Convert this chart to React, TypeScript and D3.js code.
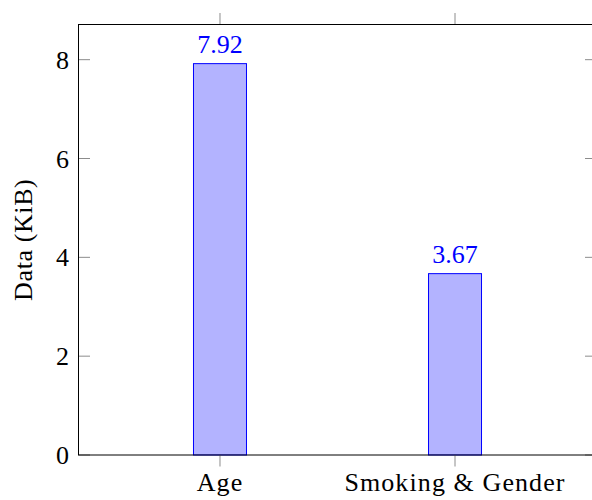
import React from "react";
import * as d3 from "d3";

// Storage size per attribute group
const categories: string[] = ["Age", "Smoking & Gender"];
const sizes: number[] = [7.92, 3.67];
const yTicks: number[] = [0, 2, 4, 6, 8];
const yLabel = "Data (KiB)";

const W = 592;
const H = 500;
const FONT = "'Liberation Serif', 'DejaVu Serif', serif";

export default function App() {
  const left = 78.5;
  const right = 596.5;
  const top = 24.5;
  const bottom = 455;

  const yMax = d3.max(sizes)! * 1.1;
  const y = d3.scaleLinear().domain([0, yMax]).range([bottom, top]);
  const x = d3
    .scalePoint<string>()
    .domain(categories)
    .range([left, right])
    .padding(0.602);

  const barW = 53;
  const tickLen = 11.5;
  const tickColor = "#8c8c8c";

  return (
    <svg
      width={W}
      height={H}
      style={{ position: "absolute", left: 0, top: 0, background: "#fff" }}
      fontFamily={FONT}
    >
      {/* bars */}
      {categories.map((c, i) => (
        <g key={c}>
          <rect
            x={x(c)! - barW / 2}
            y={y(sizes[i])}
            width={barW}
            height={y(0) - y(sizes[i])}
            fill="#b3b3ff"
            stroke="#0000ff"
            strokeWidth={1}
          />
          <text
            x={x(c)!}
            y={y(sizes[i]) - 10.5}
            textAnchor="middle"
            fontSize={26}
            fill="#0000ff"
          >
            {sizes[i].toFixed(2)}
          </text>
        </g>
      ))}

      {/* y ticks: inward on both sides */}
      {yTicks.map((t) => (
        <g key={t}>
          <line x1={left} x2={left + tickLen} y1={y(t)} y2={y(t)} stroke={tickColor} />
          <line x1={right - tickLen} x2={right} y1={y(t)} y2={y(t)} stroke={tickColor} />
          <text x={69} y={y(t) + 9} textAnchor="end" fontSize={26} fill="#000">
            {t}
          </text>
        </g>
      ))}

      {/* x ticks: outward at top and bottom */}
      {categories.map((c) => (
        <g key={c}>
          <line x1={x(c)!} x2={x(c)!} y1={top} y2={top - tickLen} stroke={tickColor} />
          <line x1={x(c)!} x2={x(c)!} y1={bottom} y2={bottom + tickLen} stroke={tickColor} />
          <text
            x={x(c)!}
            y={491}
            textAnchor="middle"
            fontSize={26}
            letterSpacing={1.1}
            fill="#000"
          >
            {c}
          </text>
        </g>
      ))}

      {/* axis frame */}
      <rect
        x={left}
        y={top}
        width={right - left}
        height={bottom - top}
        fill="none"
        stroke="#000"
        strokeWidth={1}
      />

      <text
        transform={`translate(31.5, ${(top + bottom) / 2}) rotate(-90)`}
        textAnchor="middle"
        fontSize={26}
        letterSpacing={0.6}
        fill="#000"
      >
        {yLabel}
      </text>
    </svg>
  );
}
